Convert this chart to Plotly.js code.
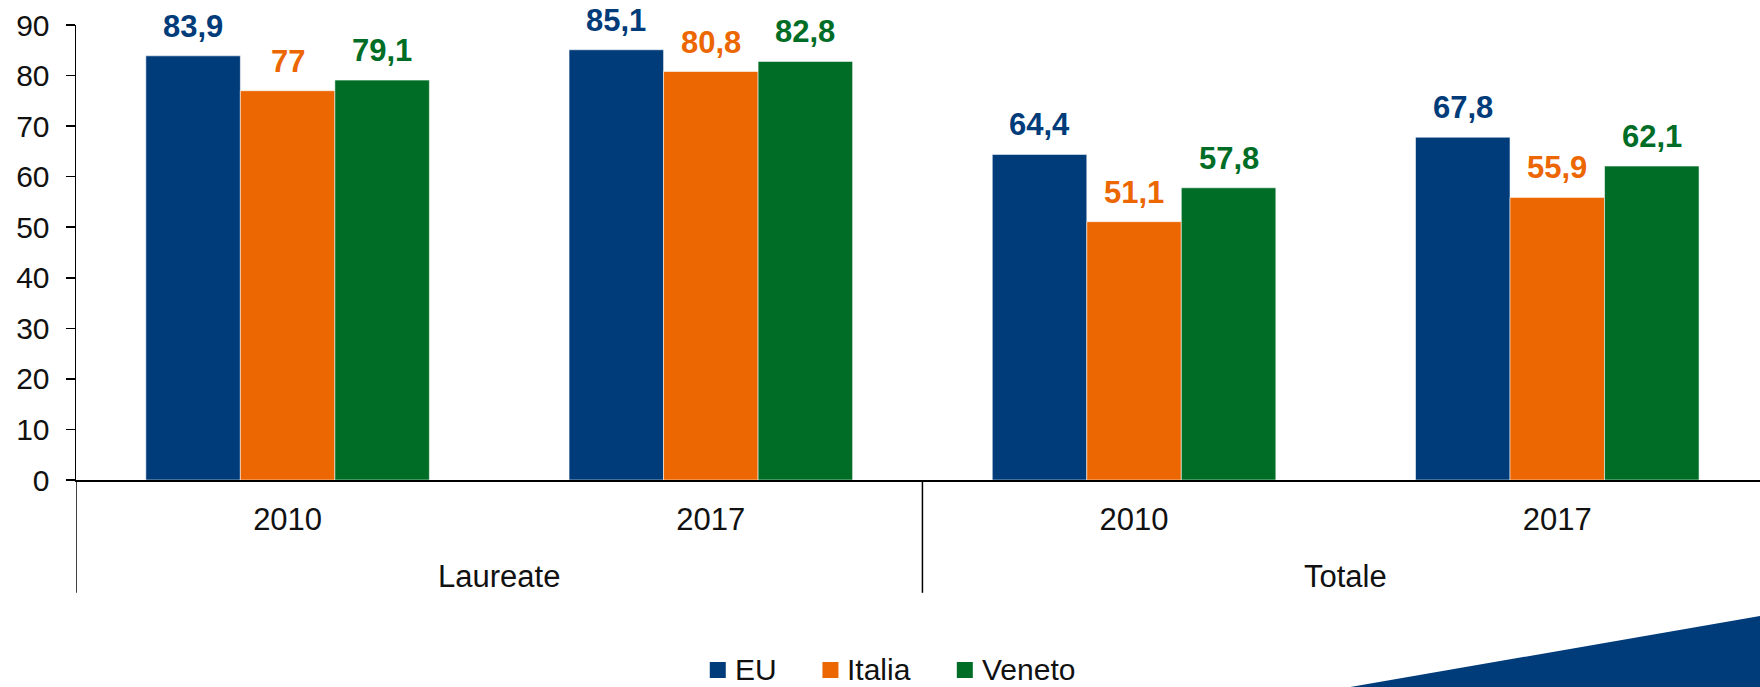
<!DOCTYPE html>
<html>
<head>
<meta charset="utf-8">
<script src="https://cdn.plot.ly/plotly-3.0.1.min.js"></script>
<style>html,body{margin:0;padding:0;background:#fff}#chart{width:1760px;height:687px}</style>
</head>
<body>
<div id="chart"></div>
<script>
// ---- data ----
const years = ['2010', '2017', '2010', '2017'];
const groups = ['Laureate', 'Laureate', 'Totale', 'Totale'];
const seriesNames = ['EU', 'Italia', 'Veneto'];
const euValues = [83.9, 85.1, 64.4, 67.8];
const italiaValues = [77, 80.8, 51.1, 55.9];
const venetoValues = [79.1, 82.8, 57.8, 62.1];
const yTicks = [0, 10, 20, 30, 40, 50, 60, 70, 80, 90];

// ---- styling ----
const colors = ['#003B7A', '#EC6602', '#006D26'];
const FONT = 'Liberation Sans, Arial, sans-serif';
const W = 1760, H = 687;
const M = {l: 76, r: 0, t: 25, b: 207};
const PW = W - M.l - M.r, PH = H - M.t - M.b;
const bargap = 0.33;
const allValues = [euValues, italiaValues, venetoValues];
const idx = years.map((_, i) => i);

const traces = allValues.map((vals, s) => ({
  type: 'bar',
  name: seriesNames[s],
  x: idx,
  y: vals,
  marker: {color: colors[s], line: {color: 'rgba(255,255,255,0.55)', width: 1}},
  hoverinfo: 'skip',
  showlegend: false
}));

const barW = (1 - bargap) / seriesNames.length;
const fmt = v => String(v).replace('.', ',');
const annotations = [];
allValues.forEach((vals, s) => {
  vals.forEach((v, i) => {
    annotations.push({
      x: i + (s - (seriesNames.length - 1) / 2) * barW,
      y: v, xref: 'x', yref: 'y',
      text: '<b>' + fmt(v) + '</b>',
      showarrow: false, yanchor: 'bottom', yshift: 10,
      font: {family: FONT, size: 31, color: colors[s]}
    });
  });
});

// group (super-category) labels & dividers
const uniqueGroups = [...new Set(groups)];
const shapes = [];
uniqueGroups.forEach(g => {
  const members = idx.filter(i => groups[i] === g);
  const mid = (members[0] + members[members.length - 1]) / 2;
  annotations.push({
    x: mid, y: -0.211, xref: 'x', yref: 'paper', text: g, showarrow: false,
    yanchor: 'middle', font: {family: FONT, size: 31, color: '#111'}
  });
});
const boundaries = [-0.5];
uniqueGroups.forEach(g => {
  const members = idx.filter(i => groups[i] === g);
  boundaries.push(members[members.length - 1] + 0.5);
});
boundaries.forEach(b => {
  shapes.push({type: 'line', xref: 'x', yref: 'paper', x0: b, x1: b, y0: 0, y1: -0.248,
    line: {color: '#000', width: 1.5}});
});

// ---- legend (drawn with shapes + annotations so square size/spacing match) ----
const LEG_FONT = 30, SQ = 16, SQ_GAP = 8, ITEM_GAP = 47, LEG_CY = 669, LEG_CX = 892;
const ctx = document.createElement('canvas').getContext('2d');
ctx.font = LEG_FONT + 'px "Liberation Sans"';
const textW = seriesNames.map(n => ctx.measureText(n).width);
const totalW = textW.reduce((a, w) => a + SQ + SQ_GAP + w, 0) + ITEM_GAP * (seriesNames.length - 1);
const px2x = px => (px - M.l) / PW;
const px2y = py => (H - M.b - py) / PH;
let cur = LEG_CX - totalW / 2;
seriesNames.forEach((n, s) => {
  shapes.push({type: 'rect', xref: 'paper', yref: 'paper',
    x0: px2x(cur), x1: px2x(cur + SQ), y0: px2y(LEG_CY + 1 - SQ / 2), y1: px2y(LEG_CY + 1 + SQ / 2),
    fillcolor: colors[s], line: {width: 0}});
  annotations.push({x: px2x(cur + SQ + SQ_GAP), y: px2y(LEG_CY), xref: 'paper', yref: 'paper',
    xanchor: 'left', yanchor: 'middle', showarrow: false, text: n, borderpad: 0,
    font: {family: FONT, size: LEG_FONT, color: '#111'}});
  cur += SQ + SQ_GAP + textW[s] + ITEM_GAP;
});

// decorative blue wedge bottom-right (pixel corners converted to paper units)
shapes.push({type: 'path', xref: 'paper', yref: 'paper',
  path: 'M ' + px2x(1333) + ',' + px2y(690) + ' L ' + px2x(1762) + ',' + px2y(615.7) +
        ' L ' + px2x(1762) + ',' + px2y(690) + ' Z',
  fillcolor: '#003B7A', line: {width: 0}});

const layout = {
  width: W, height: H,
  margin: {l: M.l, r: M.r, t: M.t, b: M.b, autoexpand: false},
  paper_bgcolor: '#fff', plot_bgcolor: '#fff',
  barmode: 'group', bargap: bargap, bargroupgap: 0,
  showlegend: false,
  font: {family: FONT, color: '#111'},
  xaxis: {
    range: [-0.5, 3.479], tickmode: 'array', tickvals: idx, ticktext: years,
    ticks: '', showgrid: false, zeroline: false, showline: true, linecolor: '#000', linewidth: 2,
    tickfont: {family: FONT, size: 31, color: '#111'}, ticklabelstandoff: 11, fixedrange: true
  },
  yaxis: {
    range: [0, 90], tickmode: 'array', tickvals: yTicks,
    ticks: 'outside', ticklen: 9, tickwidth: 1.5, tickcolor: '#000',
    showgrid: false, zeroline: false, showline: true, linecolor: '#000', linewidth: 1.5,
    tickfont: {family: FONT, size: 30, color: '#111'}, ticklabelstandoff: 10, fixedrange: true
  },
  annotations: annotations,
  shapes: shapes
};

Plotly.newPlot('chart', traces, layout, {displayModeBar: false, staticPlot: true});
</script>
</body>
</html>
